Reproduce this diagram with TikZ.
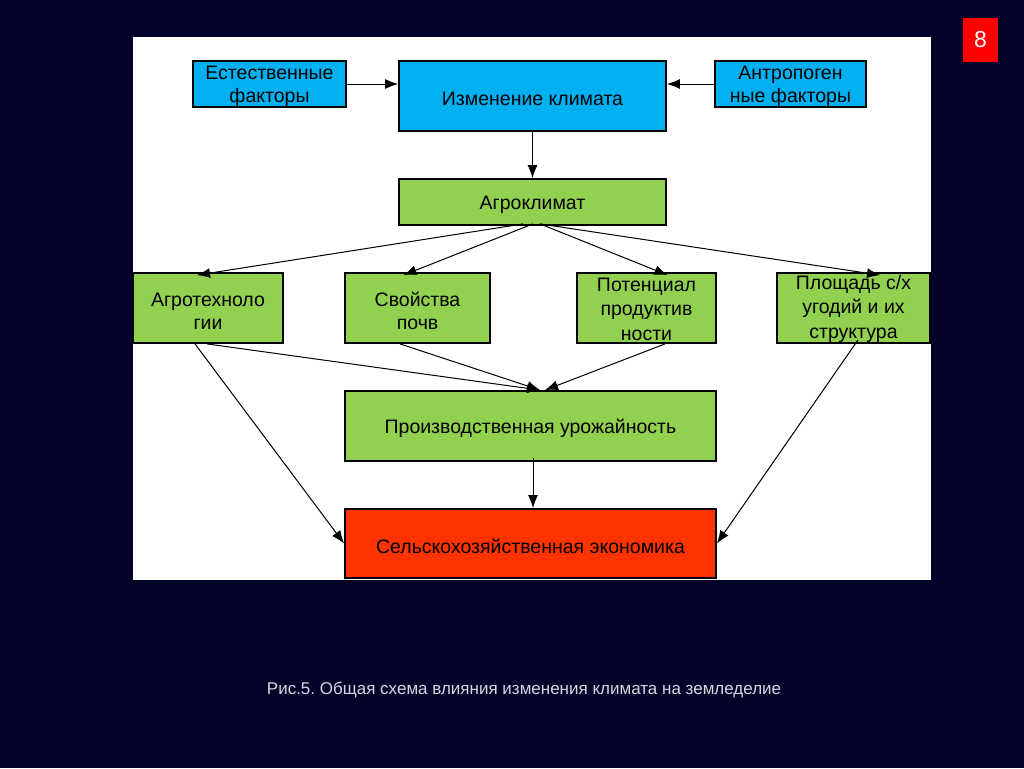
\documentclass[tikz,border=0pt]{standalone}
\usepackage{fontspec}
\setmainfont{Liberation Sans}
\usetikzlibrary{arrows.meta}
\frenchspacing
\newcommand\mystrutA{\rule{0pt}{20pt}}
\newcommand\mystrutS{\rule{0pt}{17.5pt}}
\newcommand\mystrutB{\rule{0pt}{16pt}}
\definecolor{bgnavy}{RGB}{2,2,40}
\definecolor{boxblue}{RGB}{0,176,240}
\definecolor{boxgreen}{RGB}{146,208,80}
\definecolor{boxred}{RGB}{255,51,0}
\definecolor{capgray}{RGB}{215,215,225}
\tikzset{
  box/.style={draw=black, line width=1.8pt, inner sep=0pt, align=center,
    font=\fontsize{19.5}{23.5}\selectfont, text=black},
  onebox/.style={execute at begin node={\rule{0pt}{19.5pt}}},
  bluebox/.style={box, fill=boxblue},
  greenbox/.style={box, fill=boxgreen},
  redbox/.style={box, fill=boxred},
  conn/.style={line width=1pt, -{Latex[length=13pt,width=10pt]}},
}
\begin{document}
\begin{tikzpicture}[x=1pt,y=-1pt]
\useasboundingbox (0,0) rectangle (1024,768);
\fill[bgnavy] (0,0) rectangle (1024,768);
\fill[white] (133,37) rectangle (931,580);
\node[fill=red, minimum width=35pt, minimum height=44pt, inner sep=0pt, text=white,
  font=\fontsize{23}{25}\selectfont] (badge) at (980.5,40) {8};

\node[bluebox, minimum width=153pt, minimum height=46pt, font=\fontsize{19.5}{23}\selectfont] (nat) at (269.5,84) {\mystrutS Естественные\\факторы};
\node[bluebox, onebox, minimum width=267pt, minimum height=70pt] (clim) at (532.5,96) {Изменение климата};
\node[bluebox, minimum width=151pt, minimum height=46pt, font=\fontsize{19.5}{23}\selectfont] (anth) at (790.5,84) {\mystrutS Антропоген\\ные факторы};
\node[greenbox, onebox, minimum width=267pt, minimum height=46pt] (agro) at (532.5,202) {Агроклимат};
\node[greenbox, minimum width=150pt, minimum height=70pt] (tech) at (208,308) {\mystrutA Агротехноло\\гии};
\node[greenbox, minimum width=145pt, minimum height=70pt] (soil) at (417.5,308) {\mystrutA Свойства\\почв};
\node[greenbox, minimum width=139pt, minimum height=70pt, font=\fontsize{19.5}{24.5}\selectfont] (pot) at (646.5,308) {\mystrutB Потенциал\\продуктив\\ности};
\node[greenbox, minimum width=153pt, minimum height=70pt, font=\fontsize{19.5}{24.5}\selectfont] (area) at (853.5,308) {\mystrutB Площадь с/х\\угодий и их\\структура};
\node[greenbox, onebox, minimum width=371pt, minimum height=70pt] (yield) at (530.5,426) {Производственная урожайность};
\node[redbox, onebox, minimum width=371pt, minimum height=69pt] (econ) at (530.5,543.5) {Сельскохозяйственная экономика};

\node[text=capgray, font=\fontsize{17}{20}\selectfont] (cap) at (524,690) {Рис.5. Общая схема влияния изменения климата на земледелие};

\draw[conn] (nat.east) -- (clim.west |- nat.east);
\draw[conn] (anth.west) -- (clim.east |- anth.west);
\draw[conn] (clim.south) -- (agro.north);
\draw[conn] ([xshift=-9.5pt,yshift=2pt]agro.south) -- ([xshift=-11pt,yshift=-3pt]tech.north);
\draw[conn] ([xshift=0.5pt,yshift=2pt]agro.south) -- ([xshift=-14pt,yshift=-3pt]soil.north);
\draw[conn] ([xshift=7.5pt,yshift=2pt]agro.south) -- ([xshift=21pt,yshift=-3pt]pot.north);
\draw[conn] ([xshift=7.5pt,yshift=2pt]agro.south) -- ([xshift=26.5pt,yshift=-3pt]area.north);
\draw[conn] ([xshift=-1pt]tech.south) -- ([xshift=9.5pt]yield.north);
\draw[conn] ([xshift=-17.5pt]soil.south) -- ([xshift=9.5pt]yield.north);
\draw[conn] ([xshift=18.5pt]pot.south) -- ([xshift=14.5pt]yield.north);
\draw[conn] ([xshift=-13pt]tech.south) -- (econ.west);
\draw[conn] ([xshift=4.5pt,yshift=4pt]area.south) -- (econ.east);
\draw[conn] ([xshift=2.5pt,yshift=4pt]yield.south) -- ([xshift=2.5pt]econ.north);
\end{tikzpicture}
\end{document}
